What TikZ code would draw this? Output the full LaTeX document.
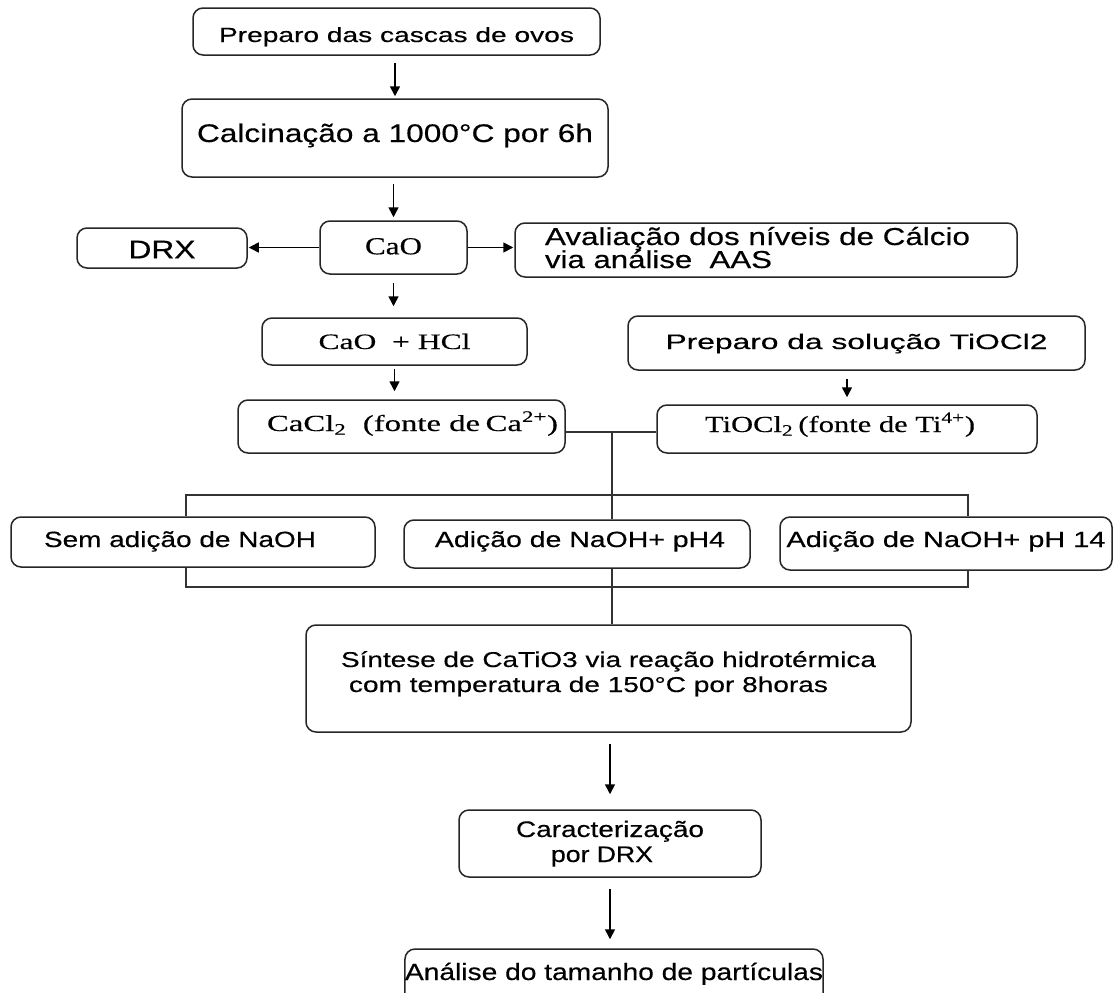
\documentclass[tikz,border=0pt]{standalone}
\usepackage{fontspec}
\usepackage{graphicx}
\setmainfont{Liberation Sans}
\newfontfamily\arf[FakeBold=0.35]{Liberation Sans}
\newfontfamily\tmf[FakeBold=0.3]{Liberation Serif}
\usetikzlibrary{arrows.meta}
\newcommand\sa[3]{\resizebox{#1pt}{\height}{\arf\fontsize{#2pt}{#2pt}\selectfont #3}}
\newcommand\se[3]{\resizebox{#1pt}{\height}{\tmf\fontsize{#2pt}{#2pt}\selectfont #3}}
\newcommand\twol[3]{\vbox{\baselineskip=#1pt\lineskiplimit=-100pt\lineskip=0pt\hbox{#2}\hbox{#3}}}
\tikzset{
  box/.style={draw=black!85, line width=1.5pt, rounded corners=10pt, inner sep=0pt, text=black},
  arr/.style={line width=1.6pt, draw=black, -{Triangle[length=10pt,width=10pt]}},
  ln/.style={line width=1.4pt, draw=black!80},
}
\begin{document}
\begin{tikzpicture}[x=1pt,y=-1pt]
\useasboundingbox (0,0) rectangle (1114,993);
\clip (0,0) rectangle (1114,993);
\fill[white] (0,0) rectangle (1114,993);

% boxes
\node[box, minimum width=407pt, minimum height=47pt, text height=21pt, text depth=0pt] (prep) at (396.5,31.5)
  {\sa{355}{20.5}{Preparo das cascas de ovos}};
\node[box, minimum width=426pt, minimum height=78pt, text height=10pt, text depth=2pt] (calc) at (395,138)
  {\sa{396}{25.5}{Calcinação a 1000°C por 6h}};
\node[box, minimum width=170pt, minimum height=40pt, text height=20.6pt, text depth=0pt] (drx) at (162,248)
  {\sa{67}{25.5}{DRX}};
\node[box, minimum width=147pt, minimum height=53pt, text height=13.6pt, text depth=0pt] (cao) at (393.5,247.5)
  {\se{57}{24.5}{CaO}};
\node[box, minimum width=502pt, minimum height=54pt, text height=36pt, text depth=0pt] (aval) at (766,250)
  {\twol{23}{\sa{425}{24.5}{Avaliação dos níveis de Cálcio}\kern17pt}{\sa{227}{24.5}{via análise\ \ AAS}}};
\node[box, minimum width=265pt, minimum height=47pt, text height=15pt, text depth=0pt] (hcl) at (394.5,341.5)
  {\se{152}{22}{CaO\ \ + HCl}};
\node[box, minimum width=457pt, minimum height=54pt, text height=12pt, text depth=0pt] (prepsol) at (856.5,343)
  {\sa{382}{21}{Preparo da solução TiOCl2}};
\node[box, minimum width=327pt, minimum height=53pt, text height=9pt, text depth=0pt] (cacl) at (401.5,426.5)
  {\kern22pt\se{291}{23}{CaCl\textsubscript{2}\ \ (fonte de\,Ca\textsuperscript{2+})}};
\node[box, minimum width=380pt, minimum height=48pt, text height=6pt, text depth=0pt] (tiocl) at (847,429)
  {\se{270}{23}{TiOCl\textsubscript{2}\,(fonte de Ti\textsuperscript{4+})}\kern14pt};
\node[box, minimum width=364pt, minimum height=50pt, text height=10pt, text depth=0pt] (sem) at (193,542)
  {\sa{272}{22}{Sem adição de NaOH}\kern26pt};
\node[box, minimum width=346pt, minimum height=48pt, text height=6pt, text depth=0pt] (ph4) at (577,544)
  {\kern6pt\sa{290}{22}{Adição de NaOH+ pH4}};
\node[box, minimum width=332pt, minimum height=53pt, text height=7pt, text depth=0pt] (ph14) at (946,543.5)
  {\sa{319}{22}{Adição de NaOH+ pH 14}};
\node[box, minimum width=605pt, minimum height=107pt, text height=27pt, text depth=0pt] (synth) at (608.5,678.5)
  {\twol{25}{\sa{535}{21.5}{Síntese de CaTiO3 via reação hidrotérmica}}{\kern8pt\sa{479}{21.5}{com temperatura de 150°C por 8horas}}};
\node[box, minimum width=302pt, minimum height=67pt, text height=37pt, text depth=0pt] (caract) at (610,843.5)
  {\twol{25}{\sa{188}{22.5}{Caracterização}}{\kern35pt\sa{102}{22.5}{por DRX}}};
\node[box, minimum width=418pt, minimum height=56pt, text height=6pt, text depth=0pt] (anal) at (614,977)
  {\sa{418}{23.5}{Análise do tamanho de partículas}};

% arrows
\draw[arr, shorten <=7pt, shorten >=2pt] (prep.south -| calc.north) -- (calc.north);
\draw[arr, shorten <=6pt, shorten >=3pt] (calc.south -| cao.north) -- (cao.north);
\draw[arr, shorten >=1pt] (cao.west) -- (cao.west -| drx.east);
\draw[arr, shorten >=1pt] (cao.east) -- (cao.east -| aval.west);
\draw[arr, shorten <=8pt, shorten >=11pt] (cao.south) -- (cao.south |- hcl.north);
\draw[arr, shorten <=3pt, shorten >=8pt] (hcl.south) -- (hcl.south |- cacl.north);
\draw[arr, shorten <=8pt, shorten >=7pt] (prepsol.south -| tiocl.north) -- (tiocl.north);
\draw[arr, shorten <=11pt, shorten >=15pt] (synth.south -| caract.north) -- (caract.north);
\draw[arr, shorten <=11pt, shorten >=9pt] (caract.south) -- (caract.south |- anal.north);

% joining lines
\coordinate (J) at (612,432);
\coordinate (T1) at (186,495);
\coordinate (T2) at (612,495);
\coordinate (T3) at (968,495);
\coordinate (B1) at (186,587);
\coordinate (B2) at (612,587);
\coordinate (B3) at (968,587);
\draw[ln] (cacl.east |- J) -- (tiocl.west |- J);
\draw[ln] (J) -- (T2);
\draw[ln] (sem.north -| T1) -- (T1) -- (T3) -- (ph14.north -| T3);
\draw[ln] (T2) -- (ph4.north -| T2);
\draw[ln] (sem.south -| B1) -- (B1) -- (B3) -- (ph14.south -| B3);
\draw[ln] (ph4.south -| B2) -- (B2) -- (synth.north -| B2);
\end{tikzpicture}
\end{document}
